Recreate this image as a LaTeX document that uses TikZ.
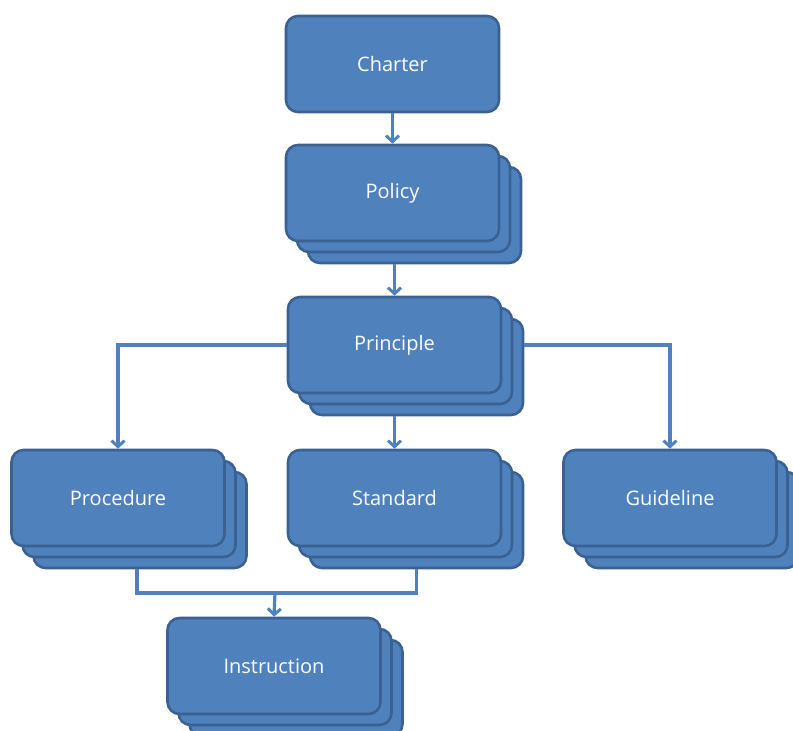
\documentclass[tikz,border=0pt]{standalone}
\usepackage{fontspec}
\setmainfont{Open Sans}
\usetikzlibrary{shadows,arrows.meta}
\definecolor{boxfill}{HTML}{4F81BD}
\definecolor{boxline}{HTML}{3A6191}
\begin{document}
\begin{tikzpicture}[x=1pt,y=1pt]
\tikzset{
    doc/.style={rectangle, rounded corners=12pt, fill=boxfill, draw=boxline, line width=2.6pt,
        minimum width=213pt, minimum height=96pt, text=white, font=\fontsize{20}{24}\selectfont},
    stack/.style={doc, double copy shadow={shadow xshift=11pt, shadow yshift=-11pt}},
    link/.style={draw=boxfill, line width=3.2pt},
    arr/.style={link, -{Straight Barb[length=6pt,width=13pt,line width=3pt]}},
}
\useasboundingbox (0,0) rectangle (793,731);

% top of the tree
\node[doc]   (charter)   at (392.5,667) {Charter};
\node[stack] (policy)    at (392.5,538) {Policy};
\node[stack] (principle) at (394.5,386) {Principle};

% the three children of the principle
\node[stack] (procedure) at (118,233)   {Procedure};
\node[stack] (standard)  at (394.5,233) {Standard};
\node[stack] (guideline) at (670,233)   {Guideline};

\node[stack] (instruction) at (274,65)  {Instruction};

\coordinate (policybot) at ([yshift=-22pt]policy.south);
\coordinate (join) at (275,138);

% connectors
\draw[arr] (charter.south) -- (policy.north);
\draw[arr] (policybot -| principle.north) -- (principle.north);
\draw[arr] (principle.west) -| (procedure.north);
\draw[arr] ([yshift=-22pt]principle.south) -- (standard.north);
\draw[arr] ([xshift=22pt]principle.east) -| (guideline.north);
\draw[link] ([shift={(19pt,-22pt)}]procedure.south) |- (join) -| ([shift={(22pt,-22pt)}]standard.south);
\draw[arr] (join) -- (instruction.north);
\end{tikzpicture}
\end{document}
